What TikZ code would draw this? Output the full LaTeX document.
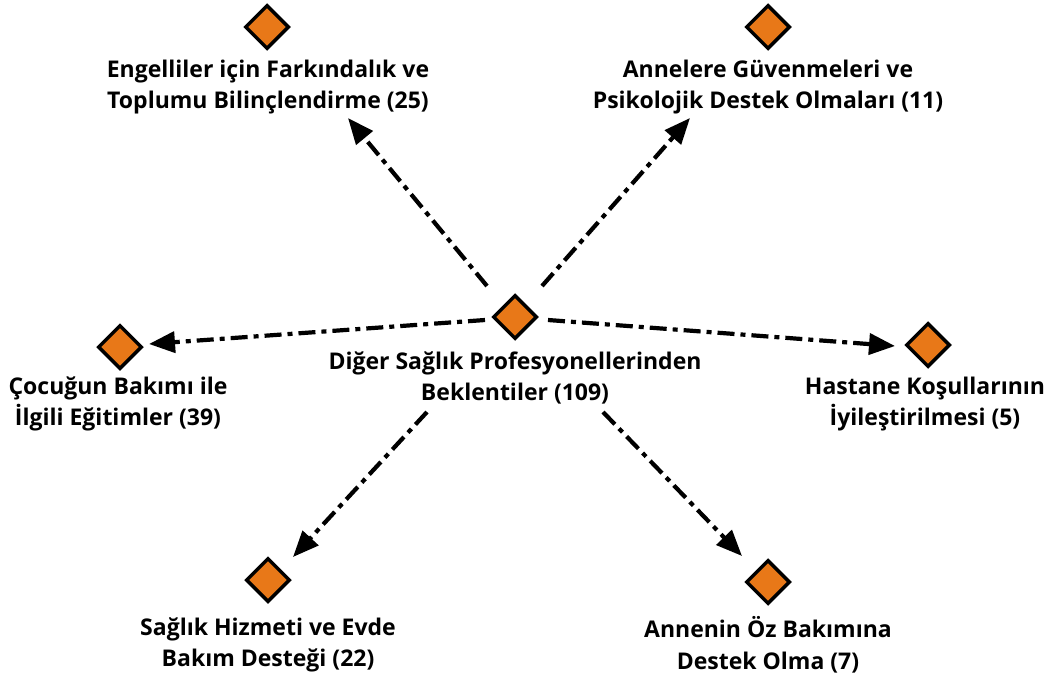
\documentclass[tikz,border=0pt]{standalone}
\usepackage{fontspec}
\setmainfont{Open Sans}
\usetikzlibrary{shapes.geometric,arrows.meta}
\definecolor{markfill}{RGB}{232,120,24}
\begin{document}
\begin{tikzpicture}[x=1pt,y=-1pt,
  gem/.style={diamond,draw=black,line width=3.5pt,fill=markfill,inner sep=0pt,minimum width=44pt,minimum height=44pt},
  lbl/.style={align=center,font=\bfseries\fontsize{23}{31.5}\selectfont,inner sep=0pt},
  link/.style={line width=4.2pt,dash pattern=on 17pt off 6pt on 5pt off 6pt,-{Triangle[length=26pt,width=21pt]}}]
\useasboundingbox (0,0) rectangle (1052,675);
% markers
\node[gem] (c)  at (515,317) {};
\node[gem] (tl) at (267,27) {};
\node[gem] (tr) at (768,27) {};
\node[gem] (l)  at (120,347) {};
\node[gem] (r)  at (928,345) {};
\node[gem] (bl) at (268,580) {};
\node[gem] (br) at (768,582) {};
% labels
\node[lbl] (tcl) at (515,378) {Diğer Sağlık Profesyonellerinden\\Beklentiler (109)};
\node[lbl] (ttl) at (268,87) {Engelliler için Farkındalık ve\\Toplumu Bilinçlendirme (25)};
\node[lbl] (ttr) at (768,87) {Annelere Güvenmeleri ve\\Psikolojik Destek Olmaları (11)};
\node[lbl] (tl2) at (118,404) {Çocuğun Bakımı ile\\İlgili Eğitimler (39)};
\node[lbl] (tr2) at (925,404) {Hastane Koşullarının\\İyileştirilmesi (5)};
\node[lbl] (tbl) at (268,645) {Sağlık Hizmeti ve Evde\\Bakım Desteği (22)};
\node[lbl] (tbr) at (768,645) {Annenin Öz Bakımına\\Destek Olma (7)};
% connector end points
\coordinate (s1) at (487,286);
\coordinate (e1) at (348,118);
\coordinate (s2) at (542,286);
\coordinate (e2) at (690,118);
\coordinate (s3) at (485,320);
\coordinate (e3) at (149,344);
\coordinate (s4) at (548,320);
\coordinate (e4) at (895,346);
\coordinate (s5) at (427,412);
\coordinate (e5) at (293,557);
\coordinate (s6) at (603,412);
\coordinate (e6) at (742,556);
\draw[link] (s1) -- (e1);
\draw[link] (s2) -- (e2);
\draw[link] (s3) -- (e3);
\draw[link] (s4) -- (e4);
\draw[link] (s5) -- (e5);
\draw[link] (s6) -- (e6);
\end{tikzpicture}
\end{document}
